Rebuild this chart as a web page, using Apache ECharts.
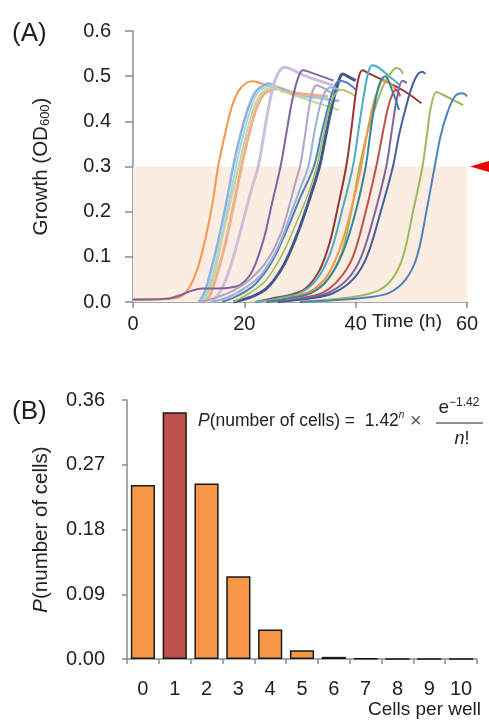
<!DOCTYPE html>
<html>
<head>
<meta charset="utf-8">
<script src="https://cdn.jsdelivr.net/npm/echarts@6/dist/echarts.min.js"></script>
<style>
  html, body { margin: 0; padding: 0; background: #fff; }
  #chart { width: 489px; height: 720px; }
</style>
</head>
<body>
<div id="chart"></div>
<script>
// panel A: growth curves, [time (h), OD600]
var curveOrangeEarly = [[0,.006],[6,.007],[8.5,.012],[10,.03],[11.5,.07],[13,.14],[14.3,.22],[15.3,.30],[16.5,.37],[17.7,.43],[19,.468],[20.5,.486],[21.6,.489],[22.5,.486],[28,.465]];
var curveLightBlue = [[11.8,0],[12.8,.02],[14,.07],[15.2,.13],[16.6,.21],[18,.30],[19.3,.37],[20.7,.43],[22,.465],[23.5,.48],[24.5,.484],[25.5,.478],[30,.46],[37,.445]];
var curvePaleTeal = [[12.2,0],[13.2,.02],[14.5,.07],[15.8,.14],[17.2,.22],[18.5,.30],[19.8,.37],[21.2,.43],[22.5,.465],[24.2,.478],[25,.48],[26,.472],[30,.455],[35,.45]];
var curveSalmon = [[13,0],[14,.02],[15.3,.07],[16.6,.13],[18,.21],[19.5,.30],[20.8,.37],[22.2,.43],[23.5,.46],[25,.47],[26,.472],[27,.466],[35,.455]];
var curvePaleGreen = [[12.5,0],[13.5,.02],[14.8,.07],[16,.14],[17.5,.22],[19,.30],[20.3,.37],[21.7,.43],[23,.462],[24.5,.474],[25.5,.476],[26.5,.468],[32,.445],[37,.425]];
var curvePaleLavender = [[14,0],[15.5,.02],[17,.06],[18.5,.12],[20,.19],[21.3,.25],[22.5,.30],[23.5,.37],[24.5,.44],[25.5,.49],[26.5,.515],[27.3,.52],[28.5,.515],[31,.5],[36,.48]];
var curvePurpleEarly = [[0,.005],[6,.007],[8.5,.015],[10.5,.025],[12.5,.03],[15,.03],[17.5,.032],[19.5,.04],[21.5,.07],[23.5,.14],[25,.22],[26.5,.30],[27.5,.37],[28.5,.44],[29.5,.49],[30.5,.513],[31.5,.51],[36,.49]];
var curveLavender = [[12,0],[15,.01],[18,.025],[21,.05],[24,.09],[26.5,.15],[28,.21],[29.3,.27],[30,.30],[30.8,.36],[31.5,.42],[32.2,.465],[33,.48],[34,.475],[36,.46]];
var curveNavy = [[18,0],[21,.01],[24,.03],[27,.08],[29.5,.15],[31.5,.22],[33.5,.30],[34.5,.36],[35.5,.42],[36.5,.47],[37.7,.505],[38.5,.5],[40,.49]];
var curveSteel = [[16,0],[19,.015],[22,.04],[25,.09],[28,.17],[30,.23],[32.5,.30],[33.8,.37],[35,.43],[36,.47],[37,.49],[38.5,.485],[40,.47]];
var curveOlive = [[18,0],[21,.02],[24,.05],[27,.11],[29.5,.18],[31.5,.24],[33,.30],[34.2,.37],[35.3,.43],[36.3,.46],[37.5,.47],[40,.455]];
var curveSky = [[14,0],[17,.01],[20,.03],[23,.06],[26,.12],[28.5,.2],[30,.25],[31.5,.30],[32.5,.37],[33.5,.43],[34.5,.465],[35.5,.475],[37,.47]];
var curveDarkRed = [[22,0],[25,.008],[28,.015],[31,.03],[33.5,.07],[35.3,.13],[36.8,.21],[38.3,.30],[39.2,.38],[40,.46],[40.6,.5],[41.2,.513],[42.5,.505],[46,.485],[49,.465],[51.8,.44]];
var curveCyan = [[22,0],[26,.008],[30,.02],[33,.05],[35.5,.11],[37.5,.2],[39.5,.30],[40.5,.38],[41.5,.46],[42.3,.51],[43,.524],[44,.52],[46,.5],[48,.48]];
var curveGreen = [[24,0],[28,.008],[32,.02],[35,.05],[37.5,.11],[39.2,.2],[40.7,.30],[42,.37],[43.5,.43],[45,.48],[46.5,.51],[47.3,.518],[48,.515],[48.5,.505]];
var curveOrangeLate = [[24,0],[28,.01],[32,.025],[35,.06],[37.5,.13],[39.5,.22],[41,.30],[42,.37],[43,.43],[44,.47],[44.9,.49],[45.8,.488],[47.8,.46]];
var curveRed = [[26,0],[30,.008],[34,.02],[37,.05],[39.5,.1],[41.8,.2],[43.7,.30],[44.8,.37],[45.8,.43],[46.6,.46],[47.3,.47],[48,.455]];
var curvePurpleLate = [[26,0],[31,.008],[35,.02],[38.5,.05],[41,.1],[43.5,.2],[45.5,.30],[46.5,.38],[47.4,.45],[48.4,.49],[49.2,.485]];
var curveBlueLate = [[26,0],[32,.008],[36,.02],[39.5,.05],[42,.1],[44.5,.2],[46.7,.30],[47.8,.37],[49,.43],[50.2,.48],[51.2,.505],[52,.51],[52.5,.505]];
var curveTeal = [[24,0],[28,.008],[32,.02],[35,.05],[37.7,.11],[40,.2],[41.8,.30],[42.7,.38],[43.6,.45],[44.5,.49],[45.3,.5],[46.5,.47],[47.8,.425]];
var curveYellowGreen = [[30,0],[35,.005],[40,.012],[44,.025],[46.5,.05],[48.5,.1],[50.3,.2],[52,.30],[52.8,.37],[53.5,.43],[54.5,.465],[55.5,.46],[59.3,.436]];
var curveBlueLast = [[30,0],[36,.004],[42,.01],[46,.02],[49,.05],[51,.1],[52.7,.2],[54.2,.30],[55.3,.37],[56.5,.42],[57.8,.455],[59,.462],[59.6,.46],[60,.455]];

var curves = [curveOrangeEarly, curveLightBlue, curvePaleTeal, curveSalmon, curvePaleGreen, curvePaleLavender,
  curvePurpleEarly, curveLavender, curveNavy, curveSteel, curveOlive, curveSky, curveDarkRed, curveCyan,
  curveGreen, curveOrangeLate, curveRed, curvePurpleLate, curveBlueLate, curveTeal, curveYellowGreen, curveBlueLast];
var curveColors = ['#f79646', '#8db3e2', '#a5d5e2', '#eeb08f', '#c3d69b', '#ccc0da',
  '#8064a2', '#b3a2c7', '#3f5a8a', '#4f81bd', '#9bbb59', '#95b3d7', '#953735', '#4bacc6',
  '#9bbb59', '#f79646', '#c0504d', '#8064a2', '#3f5f9f', '#31859c', '#9bbb59', '#4f81bd'];
var curveWidths = [2, 2.5, 2, 3, 2, 3, 2, 2, 3, 2, 1.5, 2, 2, 2, 2, 2, 2, 2, 2, 2, 2, 2];

var thresholdOD = 0.3;
var timeMax = 60;

// panel B: Poisson probabilities
var cellsPerWell = ['0', '1', '2', '3', '4', '5', '6', '7', '8', '9', '10'];
var probCells = [0.242, 0.343, 0.244, 0.115, 0.041, 0.012, 0.003, 0.0006, 0.0001, 0.00002, 0];
var highlightIndex = 1;

var font = 'Liberation Sans, Arial, sans-serif';
var txt = '#222';
var axisGrey = '#8c8c8c';

var myChart = echarts.init(document.getElementById('chart'));

var series = [];
series.push({
  type: 'line',
  data: [],
  xAxisIndex: 0,
  yAxisIndex: 0,
  z: 1,
  silent: true,
  markArea: {
    silent: true,
    itemStyle: { color: '#fcede3' },
    data: [[{ coord: [0, 0] }, { coord: [timeMax, thresholdOD] }]]
  },
  markPoint: {
    silent: true,
    symbol: 'triangle',
    symbolRotate: 90,
    symbolSize: [14, 24],
    symbolOffset: [15, 0],
    itemStyle: { color: '#ee0000' },
    label: { show: false },
    data: [{ coord: [timeMax, thresholdOD] }]
  }
});
curves.forEach(function (c, i) {
  series.push({
    type: 'line',
    data: c,
    xAxisIndex: 0,
    yAxisIndex: 0,
    showSymbol: false,
    smooth: 0.35,
    silent: true,
    clip: false,
    z: 3,
    lineStyle: { color: curveColors[i], width: curveWidths[i] }
  });
});
series.push({
  type: 'bar',
  xAxisIndex: 1,
  yAxisIndex: 1,
  barCategoryGap: '24%',
  silent: true,
  data: probCells.map(function (v, i) {
    return {
      value: v,
      itemStyle: { color: i === highlightIndex ? '#c0504d' : '#f79646' }
    };
  }),
  itemStyle: { borderColor: '#1a1a1a', borderWidth: 1.5 }
});

myChart.setOption({
  animation: false,
  textStyle: { fontFamily: font },
  grid: [
    { left: 133, right: 22, top: 31, height: 271 },
    { left: 127, right: 12, top: 400, height: 259 }
  ],
  xAxis: [
    {
      type: 'value', gridIndex: 0, min: 0, max: timeMax, interval: 20,
      axisLine: { lineStyle: { color: axisGrey, width: 1.5 } },
      axisTick: { show: true, length: 6, lineStyle: { color: axisGrey, width: 1.5 } },
      splitLine: { show: false },
      axisLabel: { color: txt, fontSize: 20, margin: 12, fontFamily: font }
    },
    {
      type: 'category', gridIndex: 1, data: cellsPerWell,
      axisLine: { lineStyle: { color: axisGrey, width: 1.5 } },
      axisTick: { show: true, interval: 0, length: 5, lineStyle: { color: axisGrey, width: 1.5 } },
      axisLabel: { color: txt, fontSize: 20, margin: 20, interval: 0, fontFamily: font }
    }
  ],
  yAxis: [
    {
      type: 'value', gridIndex: 0, min: 0, max: 0.6, interval: 0.1,
      axisLine: { show: true, lineStyle: { color: axisGrey, width: 1.5 } },
      axisTick: { show: true, length: 8, lineStyle: { color: axisGrey, width: 1.5 } },
      splitLine: { show: false },
      axisLabel: { color: txt, fontSize: 20, margin: 22, fontFamily: font,
        formatter: function (v) { return v.toFixed(1); } },
      name: '{a|Growth (OD}{s|600}{a|)}',
      nameLocation: 'middle',
      nameGap: 81,
      nameTextStyle: {
        rich: {
          a: { fontSize: 20.5, color: txt, fontFamily: font },
          s: { fontSize: 13, color: txt, fontFamily: font, verticalAlign: 'bottom', padding: [9, 0, 0, 0] }
        }
      }
    },
    {
      type: 'value', gridIndex: 1, min: 0, max: 0.36, interval: 0.09,
      axisLine: { show: true, lineStyle: { color: axisGrey, width: 1.5 } },
      axisTick: { show: true, length: 5, lineStyle: { color: axisGrey, width: 1.5 } },
      splitLine: { show: false },
      axisLabel: { color: txt, fontSize: 20, margin: 22, fontFamily: font,
        formatter: function (v) { return v.toFixed(2); } },
      name: '{i|P}{a|(number of cells)}',
      nameLocation: 'middle',
      nameGap: 75,
      nameTextStyle: {
        rich: {
          i: { fontSize: 20.5, color: txt, fontStyle: 'italic', fontFamily: font },
          a: { fontSize: 20.5, color: txt, fontFamily: font }
        }
      }
    }
  ],
  graphic: [
    { type: 'text', left: 12, top: 21, style: { text: '(A)', fontSize: 26, fill: txt, fontFamily: font } },
    { type: 'text', left: 12, top: 399, style: { text: '(B)', fontSize: 26, fill: txt, fontFamily: font } },
    { type: 'text', x: 407, y: 322, style: { text: 'Time (h)', fontSize: 19, fill: txt, fontFamily: font, align: 'center', verticalAlign: 'middle' } },
    { type: 'text', x: 481, y: 710, style: { text: 'Cells per well', fontSize: 19, fill: txt, fontFamily: font, align: 'right', verticalAlign: 'middle' } },
    {
      type: 'text', x: 198, y: 421,
      style: {
        text: '{i|P}{t|(number of cells) =  1.42}{s|n}{x| × }',
        verticalAlign: 'middle',
        rich: {
          i: { fontSize: 17.5, fill: txt, fontStyle: 'italic', fontFamily: font },
          t: { fontSize: 17.5, fill: txt, fontFamily: font },
          x: { fontSize: 20, fill: '#555', fontFamily: font },
          s: { fontSize: 10, fill: txt, fontStyle: 'italic', fontFamily: font, verticalAlign: 'top', padding: [0, 0, 12, 0] }
        }
      }
    },
    {
      type: 'text', x: 459, y: 408,
      style: {
        text: '{t|e}{s|\u22121.42}',
        align: 'center', verticalAlign: 'middle',
        rich: {
          t: { fontSize: 19, fill: txt, fontFamily: font },
          s: { fontSize: 12, fill: txt, fontFamily: font, verticalAlign: 'top', padding: [0, 0, 10, 0] }
        }
      }
    },
    { type: 'line', shape: { x1: 436, y1: 423, x2: 483, y2: 423 }, style: { stroke: txt, lineWidth: 1.2 } },
    {
      type: 'text', x: 462, y: 439,
      style: {
        text: '{i|n}{t|!}',
        align: 'center', verticalAlign: 'middle',
        rich: {
          i: { fontSize: 18, fill: txt, fontStyle: 'italic', fontFamily: font },
          t: { fontSize: 18, fill: txt, fontFamily: font }
        }
      }
    }
  ],
  series: series
});
</script>
</body>
</html>
